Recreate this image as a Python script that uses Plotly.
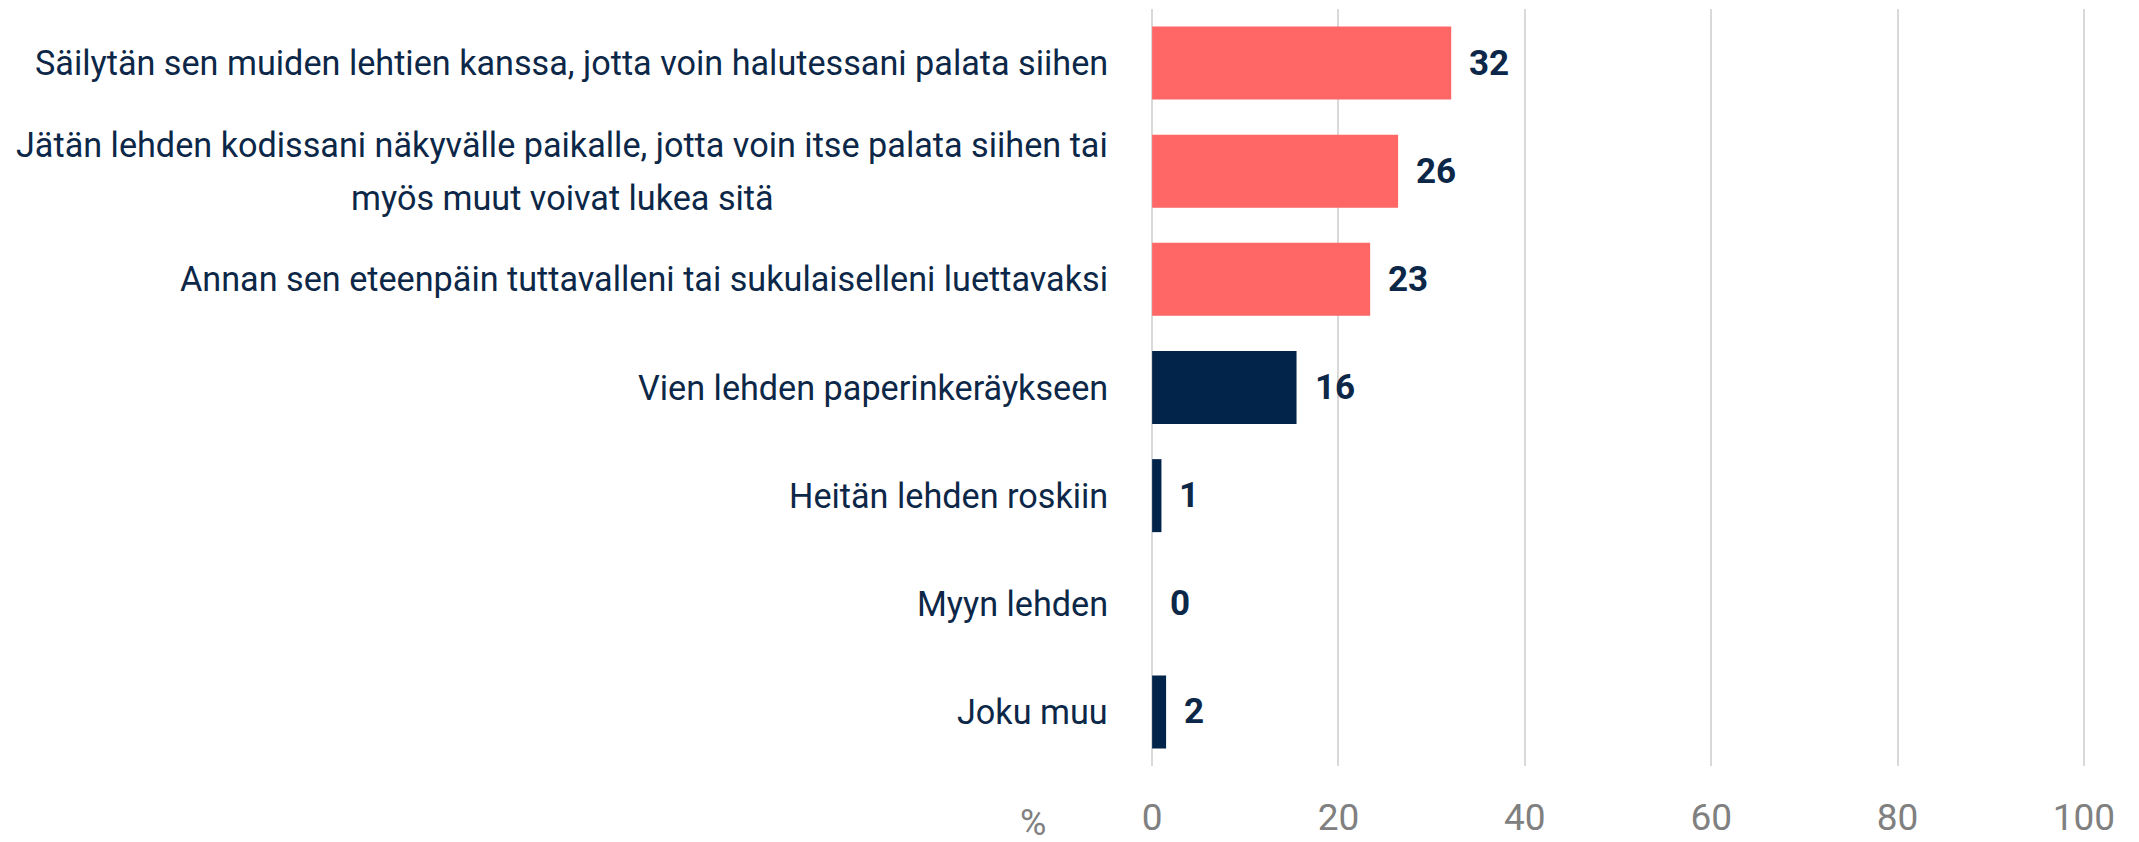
import plotly.graph_objects as go

categories = [
    "Säilytän sen muiden lehtien kanssa, jotta voin halutessani palata siihen",
    "Jätän lehden kodissani näkyvälle paikalle, jotta voin itse palata siihen tai<br>myös muut voivat lukea sitä",
    "Annan sen eteenpäin tuttavalleni tai sukulaiselleni luettavaksi",
    "Vien lehden paperinkeräykseen",
    "Heitän lehden roskiin",
    "Myyn lehden",
    "Joku muu",
]
values = [32.1, 26.4, 23.4, 15.5, 1.0, 0.0, 1.5]
value_labels = ["32", "26", "23", "16", "1", "0", "2"]
bar_colors = ["#FF6666", "#FF6666", "#FF6666", "#03244A", "#03244A", "#03244A", "#03244A"]
x_ticks = [0, 20, 40, 60, 80, 100]
unit_label = "%"

NAVY = "#0C2747"
GRAY = "#808080"
FONT = "Roboto, Arial, sans-serif"

ids = list(range(len(categories)))

fig = go.Figure()
fig.add_trace(go.Bar(
    x=values, y=ids, orientation="h",
    marker=dict(color=bar_colors, line=dict(width=0)),
    hoverinfo="skip",
))

annotations = []
# value labels
for i, (v, t) in enumerate(zip(values, value_labels)):
    annotations.append(dict(
        x=v, y=i, xref="x", yref="y", text=f"<b>{t}</b>", showarrow=False,
        xanchor="left", yanchor="middle", xshift=16,
        font=dict(family=FONT, size=35, color=NAVY),
    ))
# category labels; wrapped labels get a centred second line with wider spacing
LINE_GAP = 53
for i, c in enumerate(categories):
    lines = c.split("<br>")
    n = len(lines)
    for k, line in enumerate(lines):
        if k == 0:
            anchor, xs = "right", -42
        else:
            anchor, xs = "center", -590
        annotations.append(dict(
            x=0, y=i, xref="x", yref="y", text=line, showarrow=False,
            xanchor=anchor, yanchor="middle", xshift=xs,
            yshift=-(k - (n - 1) / 2) * LINE_GAP,
            font=dict(family=FONT, size=34.2, color=NAVY),
        ))
# axis unit label
annotations.append(dict(
    x=0, y=0, xref="x", yref="paper", text=unit_label, showarrow=False,
    xanchor="center", yanchor="middle", xshift=-119, yshift=-57,
    font=dict(family=FONT, size=36, color=GRAY),
))

fig.update_layout(
    width=2139, height=842,
    margin=dict(l=1143, r=62, t=1, b=84),
    paper_bgcolor="white", plot_bgcolor="white",
    bargap=0.325, showlegend=False,
    annotations=annotations,
    xaxis=dict(
        range=[-0.12, 100.12], tickvals=x_ticks, ticktext=[str(t) for t in x_ticks],
        showgrid=True, gridcolor="#D9D9D9", gridwidth=1.5,
        zeroline=False, showline=False,
        tickfont=dict(family=FONT, size=37, color=GRAY),
        ticklabelstandoff=26,
    ),
    yaxis=dict(
        range=[len(categories) - 0.5, -0.5],
        showticklabels=False, showgrid=False, zeroline=False, showline=False,
    ),
)

fig.write_html("out.html")
